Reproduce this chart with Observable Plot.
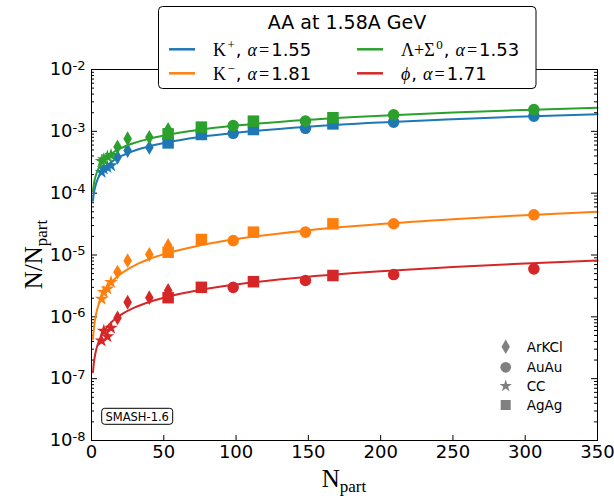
<!DOCTYPE html>
<html><head><meta charset="utf-8">
<script src="https://cdn.jsdelivr.net/npm/d3@7"></script>
<script src="https://cdn.jsdelivr.net/npm/@observablehq/plot@0.6"></script>
<style>body{margin:0;background:#fff} #chart{width:614px;height:498px}</style>
</head><body><div id="chart"></div>
<script>
// ---------- data ----------
const species = ["K+", "K-", "Lambda+Sigma0", "phi"];
const colors = ["#1f77b4", "#ff7f0e", "#2ca02c", "#d62728"];
const alphas = [1.55, 1.81, 1.53, 1.71];
const systems = ["ArKCl", "AuAu", "CC", "AgAg"];
const systemSymbols = ["diamond", "circle", "star", "square"];

const npartArKCl = [18, 25, 40, 53];
const npartAuAu = [98, 148, 209, 306];
const npartCC = [7, 8.5, 11, 13.5];
const npartAgAg = [53, 76, 112, 167];

const kplusArKCl = [3.8e-4, 4.9e-4, 5.5e-4, 7.5e-4];
const kplusAuAu = [9.3e-4, 1.12e-3, 1.41e-3, 1.76e-3];
const kplusCC = [2.19e-4, 2.48e-4, 2.63e-4, 2.8e-4];
const kplusAgAg = [6.5e-4, 8.9e-4, 1.07e-3, 1.32e-3];

const kminusArKCl = [5.3e-6, 8.1e-6, 1.02e-5, 1.43e-5];
const kminusAuAu = [1.71e-5, 2.34e-5, 3.2e-5, 4.47e-5];
const kminusCC = [1.95e-6, 2.5e-6, 2.84e-6, 3.63e-6];
const kminusAgAg = [1.11e-5, 1.78e-5, 2.34e-5, 3.19e-5];

const lambdaArKCl = [5.6e-4, 7.6e-4, 8.0e-4, 1.07e-3];
const lambdaAuAu = [1.24e-3, 1.46e-3, 1.85e-3, 2.25e-3];
const lambdaCC = [3.3e-4, 3.5e-4, 3.9e-4, 4.1e-4];
const lambdaAgAg = [9.1e-4, 1.17e-3, 1.46e-3, 1.66e-3];

const phiArKCl = [9.6e-7, 1.72e-6, 2.04e-6, 2.67e-6];
const phiAuAu = [3.0e-6, 3.87e-6, 4.83e-6, 5.97e-6];
const phiCC = [4.1e-7, 5.9e-7, 4.8e-7, 6.6e-7];
const phiAgAg = [2.04e-6, 3.0e-6, 3.7e-6, 4.66e-6];

// fitted curves
const curveNpart = [1, 1.5, 2, 3, 4, 5, 7, 10, 15, 20, 30, 40, 50, 75, 100, 150, 200, 250, 300, 350];
const kplusCurve = [7.55e-5, 9.44e-5, 1.105e-4, 1.38e-4, 1.62e-4, 1.83e-4, 2.20e-4, 2.68e-4, 3.35e-4, 3.92e-4, 4.90e-4, 5.74e-4, 6.49e-4, 8.12e-4, 9.50e-4, 1.19e-3, 1.39e-3, 1.57e-3, 1.74e-3, 1.89e-3];
const kminusCurve = [4.34e-7, 6.03e-7, 7.61e-7, 1.057e-6, 1.334e-6, 1.60e-6, 2.10e-6, 2.80e-6, 3.89e-6, 4.91e-6, 6.82e-6, 8.61e-6, 1.032e-5, 1.43e-5, 1.81e-5, 2.51e-5, 3.17e-5, 3.80e-5, 4.41e-5, 4.99e-5];
const lambdaCurve = [1.08e-4, 1.34e-4, 1.56e-4, 1.93e-4, 2.25e-4, 2.53e-4, 3.03e-4, 3.66e-4, 4.54e-4, 5.29e-4, 6.55e-4, 7.63e-4, 8.59e-4, 1.064e-3, 1.24e-3, 1.54e-3, 1.79e-3, 2.02e-3, 2.22e-3, 2.41e-3];
const phiCurve = [1.27e-7, 1.69e-7, 2.08e-7, 2.77e-7, 3.40e-7, 3.98e-7, 5.06e-7, 6.51e-7, 8.69e-7, 1.066e-6, 1.42e-6, 1.74e-6, 2.04e-6, 2.72e-6, 3.34e-6, 4.46e-6, 5.46e-6, 6.40e-6, 7.29e-6, 8.13e-6];

const xTicks = [0, 50, 100, 150, 200, 250, 300, 350];
const yMajor = [1e-8, 1e-7, 1e-6, 1e-5, 1e-4, 1e-3, 1e-2];

// ---------- assemble ----------
const npartBySystem = [npartArKCl, npartAuAu, npartCC, npartAgAg];
const valuesBySpecies = [
  [kplusArKCl, kplusAuAu, kplusCC, kplusAgAg],
  [kminusArKCl, kminusAuAu, kminusCC, kminusAgAg],
  [lambdaArKCl, lambdaAuAu, lambdaCC, lambdaAgAg],
  [phiArKCl, phiAuAu, phiCC, phiAgAg]
];
const curves = [kplusCurve, kminusCurve, lambdaCurve, phiCurve];
const yMinor = [];
for (let e = -8; e < -2; e++) for (let m = 2; m <= 9; m++) yMinor.push(m * Math.pow(10, e));

const symbolR = {diamond: 4.5, circle: 5.8, star: 4.3, square: 6.5};

const W = 614, H = 498, mL = 91, mR = 17, mT = 69, mB = 58;
const fw = W - mL - mR, fh = H - mT - mB;

const marks = [];
// tick marks (inward)
marks.push(Plot.ruleX(xTicks, {x: d => d, insetTop: fh - 5, stroke: "black"}));
marks.push(Plot.ruleX(xTicks, {x: d => d, insetBottom: fh - 5, stroke: "black"}));
marks.push(Plot.ruleY(yMajor, {y: d => d, insetRight: fw - 6, stroke: "black"}));
marks.push(Plot.ruleY(yMajor, {y: d => d, insetLeft: fw - 6, stroke: "black"}));
marks.push(Plot.ruleY(yMinor, {y: d => d, insetRight: fw - 3, stroke: "black"}));
marks.push(Plot.ruleY(yMinor, {y: d => d, insetLeft: fw - 3, stroke: "black"}));

species.forEach((sp, i) => {
  const lineData = curveNpart.map((x, k) => ({x, y: curves[i][k]}));
  marks.push(Plot.line(lineData, {x: "x", y: "y", stroke: colors[i], strokeWidth: 2, curve: "monotone-x"}));
  systems.forEach((sys, j) => {
    const pts = npartBySystem[j].map((x, k) => ({x, y: valuesBySpecies[i][j][k]}));
    const sym = systemSymbols[j];
    marks.push(Plot.dot(pts, {x: "x", y: "y", symbol: () => sym, r: symbolR[sym], fill: colors[i], stroke: "none"}));
  });
});

marks.push(Plot.frame({stroke: "black", strokeWidth: 1}));
marks.push(Plot.axisX({ticks: xTicks, tickSize: 0, tickPadding: 5, fontSize: 18, tickFormat: d => String(d), label: null}));
marks.push(Plot.axisY({ticks: yMajor, tickSize: 0, tickPadding: 6, fontSize: 18, tickFormat: d => String(Math.round(Math.log10(d))), label: null}));

const svg = Plot.plot({
  width: W, height: H,
  marginLeft: mL, marginRight: mR, marginTop: mT, marginBottom: mB,
  x: {domain: [0, 350]},
  y: {type: "log", domain: [1e-8, 1e-2]},
  symbol: {type: "identity"},
  style: {fontFamily: "DejaVu Sans", background: "white", color: "black"},
  marks
});
document.getElementById("chart").appendChild(svg);

const s = d3.select(svg);
// y tick labels as 10^exp
s.selectAll('g[aria-label="y-axis tick label"] text').each(function () {
  const t = d3.select(this);
  const e = this.textContent.trim();
  t.text(null);
  t.append("tspan").text("10");
  t.append("tspan").attr("dy", "-0.42em").attr("font-size", 13).text(e);
});

const serif = "Liberation Serif, DejaVu Serif, serif";
// axis titles
const xl = s.append("text").attr("x", mL + fw / 2).attr("y", 487).attr("text-anchor", "middle")
  .attr("font-family", serif).attr("font-size", 25).attr("fill", "black");
xl.append("tspan").text("N");
xl.append("tspan").attr("font-size", 17).attr("dy", 5).text("part");

const yl = s.append("text").attr("transform", `translate(42,${mT + fh / 2}) rotate(-90)`).attr("text-anchor", "middle")
  .attr("font-family", serif).attr("font-size", 25).attr("fill", "black");
yl.append("tspan").text("N/N");
yl.append("tspan").attr("font-size", 17).attr("dy", 5).text("part");

// top legend
const lg = s.append("g");
lg.append("rect").attr("x", 158.5).attr("y", 6.5).attr("width", 377.5).attr("height", 82).attr("rx", 4)
  .attr("fill", "white").attr("stroke", "black").attr("stroke-width", 1);
lg.append("text").attr("x", 347).attr("y", 29).attr("text-anchor", "middle").attr("font-size", 19)
  .attr("font-family", "DejaVu Sans").attr("fill", "black").text("AA at 1.58A GeV");
const heads = [
  [["K", "r"], ["+", "sup"]],
  [["K", "r"], ["\u2212", "sup"]],
  [["\u039B+\u03A3", "r"], ["0", "sup"]],
  [["\u03D5", "i"]]
];
const colX = [169, 357], rowY = [49.3, 73.3];
species.forEach((sp, i) => {
  const c = Math.floor(i / 2), r = i % 2;
  lg.append("line").attr("x1", colX[c]).attr("x2", colX[c] + 26).attr("y1", rowY[r]).attr("y2", rowY[r])
    .attr("stroke", colors[i]).attr("stroke-width", 2.5);
  const t = lg.append("text").attr("x", colX[c] + 44).attr("y", rowY[r] + 6.5).attr("font-size", 18)
    .attr("text-anchor", "start").attr("fill", "black");
  heads[i].forEach(([txt, kind]) => {
    if (kind === "sup") t.append("tspan").attr("font-family", serif).attr("font-size", 13).attr("dy", -7).attr("dx", 1.5).text(txt);
    else if (kind === "i") t.append("tspan").attr("font-family", serif).attr("font-style", "italic").text(txt);
    else t.append("tspan").attr("font-family", serif).text(txt);
  });
  const back = heads[i].some(h => h[1] === "sup") ? 7 : 0;
  t.append("tspan").attr("font-family", "DejaVu Sans").attr("dy", back).attr("dx", 1).text(",");
  t.append("tspan").attr("font-family", serif).attr("font-style", "italic").attr("dx", 6).text("\u03B1");
  t.append("tspan").attr("font-family", serif).attr("dx", 2).text("=");
  t.append("tspan").attr("font-family", "DejaVu Sans").attr("dx", 2).text(String(alphas[i]));
});

// system legend (bottom right)
const symTypes = {diamond: d3.symbolDiamond, circle: d3.symbolCircle, star: d3.symbolStar, square: d3.symbolSquare};
const symSizes = {diamond: 60, circle: 90, star: 48, square: 100};
const legY = [346.7, 367.3, 386, 405];
systems.forEach((sys, j) => {
  const sym = systemSymbols[j];
  s.append("path").attr("transform", `translate(505.7,${legY[j]})`)
    .attr("d", d3.symbol(symTypes[sym], symSizes[sym])()).attr("fill", "#808080");
  s.append("text").attr("x", 526.7).attr("y", legY[j] + 5).attr("font-size", 13.5).attr("text-anchor", "start")
    .attr("font-family", "DejaVu Sans").attr("fill", "black").text(sys);
});

// SMASH label
s.append("rect").attr("x", 101.7).attr("y", 408.3).attr("width", 71).attr("height", 16).attr("rx", 3)
  .attr("fill", "white").attr("stroke", "black").attr("stroke-width", 1);
s.append("text").attr("x", 137.2).attr("y", 420.5).attr("text-anchor", "middle").attr("font-size", 11.5)
  .attr("font-family", "DejaVu Sans").attr("fill", "black").text("SMASH-1.6");
</script></body></html>
